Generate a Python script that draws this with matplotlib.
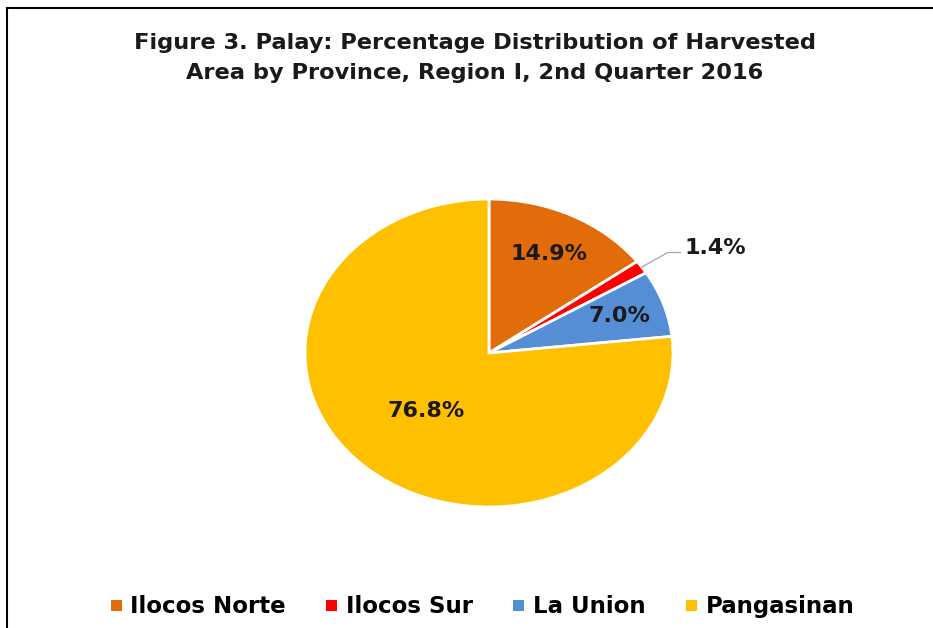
import numpy as np
import matplotlib
matplotlib.use("Agg")
import matplotlib.pyplot as plt
from matplotlib.lines import Line2D
from matplotlib.patches import Rectangle

# datos
provincias = ["Ilocos Norte", "Ilocos Sur", "La Union", "Pangasinan"]
porcentajes = [14.9, 1.4, 7.0, 76.8]
colores = ["#E36C0A", "#FF0000", "#558ED5", "#FFC000"]
titulo = "Figure 3. Palay: Percentage Distribution of Harvested\nArea by Province, Region I, 2nd Quarter 2016"

W, H = 933, 628
fig = plt.figure(figsize=(W / 100, H / 100), dpi=100)

# pie estirado (elipse) como en el original
cx, cy, rx, ry = 489, 353, 184, 154
ax = fig.add_axes([(cx - rx) / W, (H - cy - ry) / H, 2 * rx / W, 2 * ry / H])
wedges, _ = ax.pie(porcentajes, colors=colores, startangle=90, counterclock=False,
                   wedgeprops=dict(edgecolor="white", linewidth=2))
ax.set_aspect("auto")
ax.set_xlim(-1, 1)
ax.set_ylim(-1, 1)
ax.axis("off")

# etiquetas
dist = [0.72, None, 0.75, 0.51]
for w, p, d in zip(wedges, porcentajes, dist):
    ang = np.deg2rad((w.theta1 + w.theta2) / 2)
    txt = f"{p:.1f}%"
    if d is None:
        x0, y0 = np.cos(ang), np.sin(ang)
        x1, y1 = 1.17 * np.cos(ang), 1.17 * np.sin(ang)
        ax.plot([x0, x1, x1 + 0.07], [y0, y1, y1], color="#A6A6A6", lw=0.9, clip_on=False)
        ax.text(x1 + 0.09, y1 + 0.03, txt, ha="left", va="center", fontsize=16,
                fontweight="bold", color="#1a1a1a")
    else:
        ax.text(d * np.cos(ang), d * np.sin(ang), txt, ha="center", va="center",
                fontsize=16, fontweight="bold", color="#1a1a1a")

fig.text(475 / W, 1 - 58 / H, titulo, ha="center", va="center", fontsize=16.2,
         fontweight="bold", color="#1a1a1a", linespacing=1.6)

# leyenda a mano (misma linea base para todos los textos)
renderer = fig.canvas.get_renderer()
textos = [fig.text(0, 1 - 613 / H, n, ha="left", va="baseline", fontsize=16.5,
                   fontweight="bold", color="black") for n in provincias]
anchos = [t.get_window_extent(renderer).width for t in textos]
cuadro, pad, sep = 11, 9, 40
total = sum(cuadro + pad + a for a in anchos) + sep * (len(anchos) - 1)
x = 482.5 - total / 2
for t, a, c in zip(textos, anchos, colores):
    fig.add_artist(Rectangle((x / W, 1 - 611 / H), cuadro / W, cuadro / H,
                             facecolor=c, edgecolor="none", transform=fig.transFigure))
    t.set_x((x + cuadro + pad) / W)
    x += cuadro + pad + a + sep

# marco
fig.add_artist(Line2D([7.5 / W, 7.5 / W], [0, 1 - 7.5 / H], color="black", lw=1.5))
fig.add_artist(Line2D([7.5 / W, 1], [1 - 7.5 / H, 1 - 7.5 / H], color="black", lw=1.5))

fig.savefig("out.png", dpi=100)
